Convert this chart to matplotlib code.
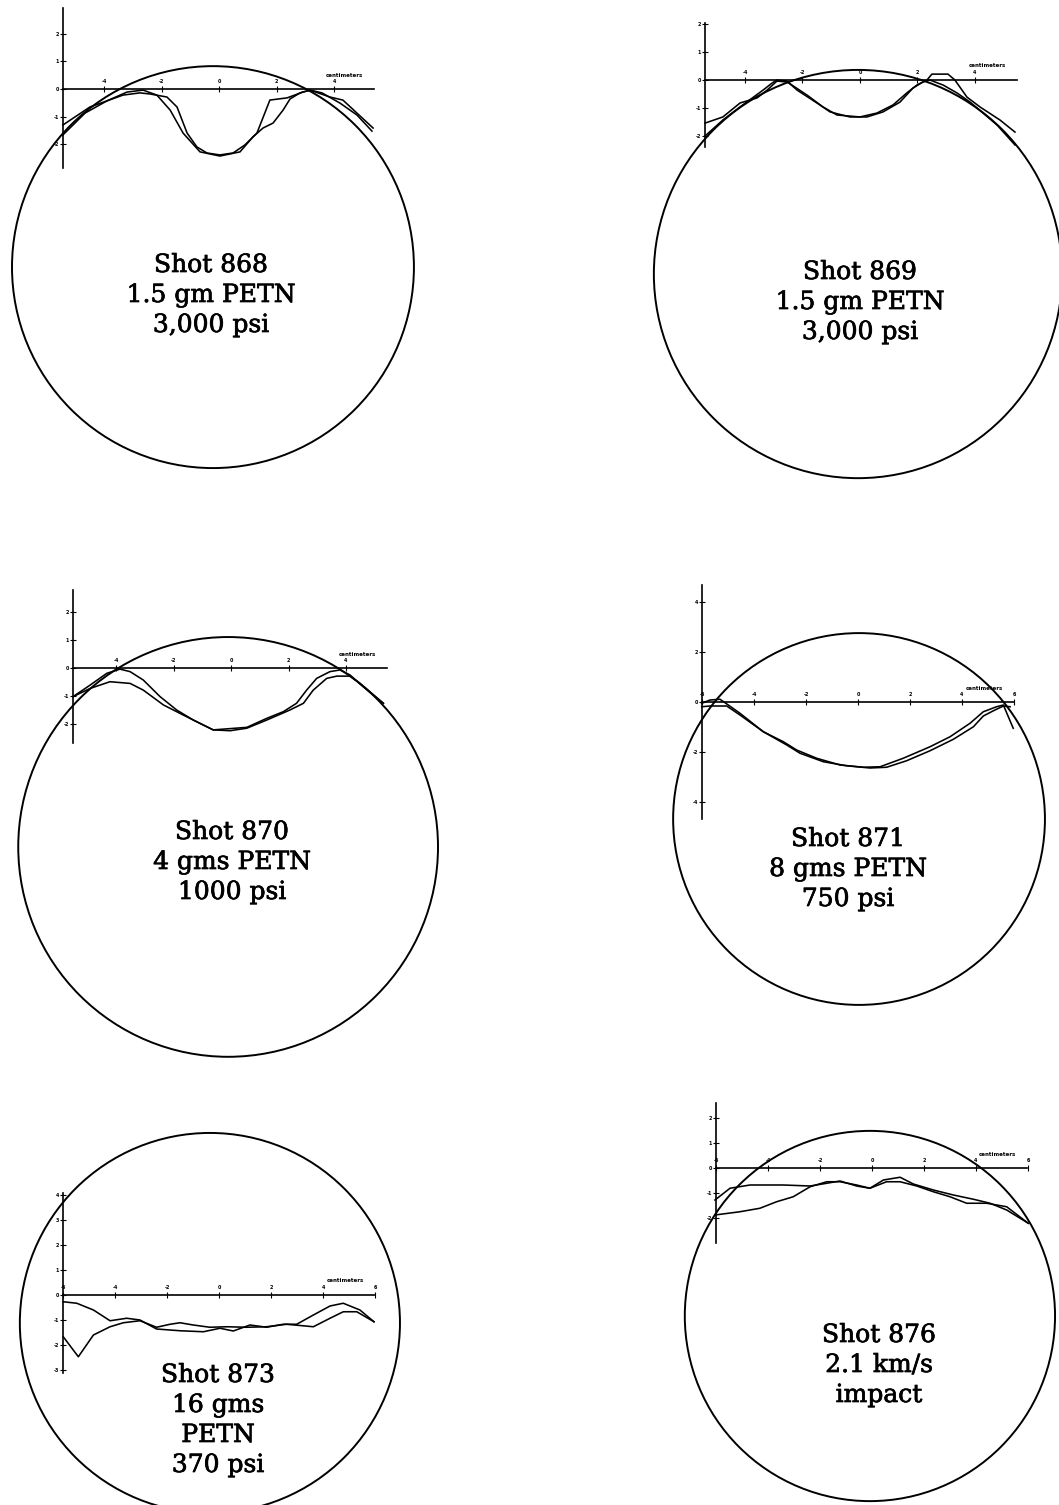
import matplotlib
matplotlib.use("Agg")
import matplotlib.pyplot as plt
import matplotlib.patheffects as pe
from matplotlib.patches import Ellipse

plt.rcParams['axes.unicode_minus'] = False

# ---------------- data (x in cm, y in plot units) ----------------
shots = ["868", "869", "870", "871", "873", "876"]

s868_xa = [-5.43, -4.49, -3.34, -2.75, -2.40, -1.81, -1.46, -1.11, -0.77, -0.42, 0.03,
           0.49, 0.90, 1.32, 1.77, 2.37, 2.92, 3.17, 3.86, 4.31, 5.36]
s868_ya = [-1.30, -0.65, -0.22, -0.14, -0.18, -0.29, -0.65, -1.59, -2.09, -2.31, -2.38,
           -2.31, -2.02, -1.59, -0.40, -0.32, -0.11, -0.04, -0.29, -0.40, -1.41]
s868_xb = [-5.43, -4.66, -3.90, -3.20, -2.64, -2.16, -1.70, -1.25, -0.66, 0.03, 0.73,
           1.18, 1.53, 1.88, 2.23, 2.47, 2.82, 3.17, 3.58, 4.21, 4.80, 5.32]
s868_yb = [-1.66, -0.87, -0.43, -0.11, -0.04, -0.22, -0.76, -1.59, -2.27, -2.42, -2.27,
           -1.73, -1.41, -1.23, -0.76, -0.36, -0.14, -0.04, -0.14, -0.51, -0.94, -1.52]

s869_xa = [-5.39, -4.77, -4.17, -3.58, -3.23, -2.89, -2.54, -2.37, -1.84, -1.29, -0.80, 0.00,
           0.59, 1.15, 1.63, 1.98, 2.33, 2.50, 3.06, 3.30, 3.72, 4.17, 4.87, 5.39]
s869_ya = [-1.54, -1.32, -0.82, -0.64, -0.36, -0.04, -0.07, -0.18, -0.54, -0.96, -1.25, -1.32,
           -1.18, -0.89, -0.46, -0.18, 0.00, 0.21, 0.21, 0.00, -0.61, -0.96, -1.43, -1.86]
s869_xb = [-5.39, -4.77, -4.17, -3.37, -3.06, -2.89, -2.54, -2.19, -1.50, -1.04, -0.35, 0.24,
           0.80, 1.39, 1.84, 2.19, 2.43, 2.89, 3.37, 3.83, 4.28, 4.77, 5.39]
s869_yb = [-2.00, -1.43, -0.96, -0.36, -0.11, 0.00, -0.04, -0.36, -0.82, -1.14, -1.32, -1.32,
           -1.14, -0.79, -0.29, -0.07, 0.00, -0.18, -0.46, -0.79, -1.18, -1.61, -2.32]

s870_xa = [-5.49, -4.90, -4.21, -3.51, -3.05, -2.35, -1.66, -0.62, -0.03, 0.55, 1.24, 2.05,
           2.52, 2.86, 3.33, 3.68, 4.14, 4.49, 5.30]
s870_ya = [-1.02, -0.73, -0.49, -0.55, -0.79, -1.32, -1.68, -2.21, -2.24, -2.15, -1.86, -1.50,
           -1.26, -0.79, -0.37, -0.29, -0.29, -0.55, -1.26]
s870_xb = [-5.49, -4.90, -4.32, -3.86, -3.51, -3.05, -2.47, -1.89, -1.31, -0.62, 0.55, 1.24,
           1.82, 2.28, 2.63, 2.98, 3.44, 3.79, 4.14, 4.60, 5.30]
s870_yb = [-1.02, -0.61, -0.19, -0.04, -0.13, -0.43, -1.02, -1.50, -1.86, -2.21, -2.12, -1.80,
           -1.56, -1.26, -0.79, -0.37, -0.13, -0.07, -0.25, -0.67, -1.26]

s871_xa = [-6.01, -5.69, -5.31, -4.99, -4.54, -3.64, -2.87, -2.36, -1.59, -0.69, 0.21, 0.85,
           1.74, 2.77, 3.54, 4.31, 4.82, 5.33, 5.59, 5.97]
s871_ya = [-0.05, 0.08, 0.11, -0.12, -0.45, -1.19, -1.59, -1.92, -2.25, -2.52, -2.61, -2.59,
           -2.25, -1.79, -1.39, -0.85, -0.39, -0.19, -0.12, -1.05]
s871_xb = [-6.01, -5.69, -5.05, -4.54, -3.64, -2.74, -2.23, -1.33, -0.44, 0.46, 1.10, 1.87,
           2.77, 3.67, 4.44, 4.82, 5.21, 5.59, 5.85]
s871_yb = [-0.19, -0.16, -0.16, -0.52, -1.19, -1.72, -2.05, -2.39, -2.55, -2.64, -2.61, -2.35,
           -1.95, -1.49, -0.99, -0.56, -0.35, -0.16, -0.19]

s873_xa = [-5.99, -5.47, -4.83, -4.19, -3.55, -3.04, -2.40, -1.50, -0.60, 0.04, 0.55, 1.19,
           1.83, 2.47, 2.99, 3.63, 4.27, 4.78, 5.42, 5.96]
s873_ya = [-0.27, -0.33, -0.60, -1.03, -0.93, -1.00, -1.36, -1.43, -1.47, -1.33, -1.44, -1.20,
           -1.29, -1.17, -1.17, -0.80, -0.44, -0.33, -0.60, -1.07]
s873_xb = [-5.99, -5.41, -4.83, -4.19, -3.68, -3.04, -2.40, -1.88, -1.50, -0.99, -0.35, 0.30,
           1.06, 1.83, 2.60, 3.63, 4.27, 4.78, 5.30, 5.96]
s873_yb = [-1.67, -2.47, -1.60, -1.27, -1.11, -1.03, -1.29, -1.17, -1.11, -1.20, -1.29, -1.27,
           -1.29, -1.27, -1.17, -1.27, -0.93, -0.67, -0.67, -1.07]

s876_xa = [-6.04, -5.46, -4.69, -3.41, -2.38, -1.74, -1.23, -0.59, -0.08, 0.44, 1.08, 1.59,
           2.36, 3.13, 3.90, 4.54, 5.18, 6.01]
s876_ya = [-1.28, -0.81, -0.68, -0.68, -0.72, -0.61, -0.52, -0.72, -0.81, -0.48, -0.37, -0.64,
           -0.88, -1.08, -1.25, -1.41, -1.68, -2.21]
s876_xb = [-6.04, -5.08, -4.31, -3.67, -3.03, -2.38, -1.74, -1.23, -0.59, -0.08, 0.56, 1.08,
           1.72, 2.36, 3.00, 3.64, 4.41, 5.18, 6.01]
s876_yb = [-1.88, -1.75, -1.61, -1.35, -1.15, -0.75, -0.55, -0.55, -0.68, -0.81, -0.55, -0.55,
           -0.72, -0.95, -1.15, -1.41, -1.41, -1.55, -2.21]

# plate outline circles (centre x, centre y, radius in x units)
circle_x = [-0.21, -0.07, -0.10, 0.04, -0.35, -0.08]
circle_y = [-6.43, -6.93, -6.39, -4.68, -1.12, -5.92]
circle_r = [6.99, 7.10, 7.30, 7.15, 7.31, 7.12]

xticks_small = [-4, -2, 0, 2, 4]
xticks_wide = [-6, -4, -2, 0, 2, 4, 6]
yticks_868 = [-2, -1, 0, 1, 2]
yticks_871 = [-4, -2, 0, 2, 4]
yticks_873 = [-3, -2, -1, 0, 1, 2, 3, 4]
yticks_876 = [-2, -1, 0, 1, 2]

labels_868 = ["Shot 868", "1.5 gm PETN", "3,000 psi"]
labels_869 = ["Shot 869", "1.5 gm PETN", "3,000 psi"]
labels_870 = ["Shot 870", "4 gms PETN", "1000 psi"]
labels_871 = ["Shot 871", "8 gms PETN", "750 psi"]
labels_873 = ["Shot 873", "16 gms", "PETN", "370 psi"]
labels_876 = ["Shot 876", "2.1 km/s", "impact"]

profiles = [(s868_xa, s868_ya, s868_xb, s868_yb), (s869_xa, s869_ya, s869_xb, s869_yb),
            (s870_xa, s870_ya, s870_xb, s870_yb), (s871_xa, s871_ya, s871_xb, s871_yb),
            (s873_xa, s873_ya, s873_xb, s873_yb), (s876_xa, s876_ya, s876_xb, s876_yb)]
xticks_all = [xticks_small, xticks_small, xticks_small, xticks_wide, xticks_wide, xticks_wide]
yticks_all = [yticks_868, yticks_868, yticks_868, yticks_871, yticks_873, yticks_876]
labels_all = [labels_868, labels_869, labels_870, labels_871, labels_873, labels_876]

# ---------------- layout (pixels of the 1059x1505 page) ----------------
W, H = 1059, 1505
origin_px = [(219, 89), (860, 80), (231, 668), (858, 702), (219, 1295), (872, 1168)]
scale_px = [(28.75, 27.7), (28.75, 28.0), (28.75, 28.0), (26, 25), (26, 25), (26, 25)]
xspan = [(-5.43, 5.39), (-5.39, 5.46), (-5.50, 5.43), (-6.0, 6.0), (-6.0, 6.0), (-6.0, 5.96)]
yspan = [(-2.85, 2.92), (-2.39, 2.04), (-2.68, 2.79), (-4.68, 4.68), (-3.12, 4.08), (-3.0, 2.6)]
text_x = [211, 860, 232, 848, 218, 879]
text_y = [272, 279, 839, 846, 1382, 1342]
text_step = 30

fig = plt.figure(figsize=(W / 100, H / 100), dpi=100)
fig.patch.set_facecolor("white")

for i, shot in enumerate(shots):
    ox, oy = origin_px[i]
    sx, sy = scale_px[i]
    ax = fig.add_axes([0, 0, 1, 1])
    ax.patch.set_alpha(0)
    ax.set_xlim(-ox / sx, (W - ox) / sx)
    ax.set_ylim((oy - H) / sy, oy / sy)

    # axes drawn as spines through the origin
    for side in ["top", "right"]:
        ax.spines[side].set_visible(False)
    ax.spines["left"].set_position(("data", xspan[i][0]))
    ax.spines["left"].set_bounds(*yspan[i])
    ax.spines["bottom"].set_position(("data", 0))
    ax.spines["bottom"].set_bounds(*xspan[i])
    for side in ["left", "bottom"]:
        ax.spines[side].set_linewidth(1.2)
    ax.set_xticks(xticks_all[i])
    ax.set_yticks(yticks_all[i])
    ax.set_xticklabels([str(v) for v in xticks_all[i]], fontweight="bold")
    ax.set_yticklabels([str(v) for v in yticks_all[i]], fontweight="bold")
    ax.tick_params(direction="inout", length=4, width=0.8, labelsize=3.5)
    ax.tick_params(axis="x", pad=-9)
    ax.tick_params(axis="y", pad=1)

    xa, ya, xb, yb = profiles[i]
    ax.plot(xa, ya, color="black", lw=1.15)
    ax.plot(xb, yb, color="black", lw=1.15)

    r = circle_r[i]
    ax.add_patch(Ellipse((circle_x[i], circle_y[i]), 2 * r, 2 * r * sx / sy,
                         fill=False, edgecolor="black", lw=1.4))

    ax.annotate("centimeters", xy=(xspan[i][1], 0), xytext=(-30, 14),
                textcoords="offset pixels", ha="center", va="center",
                fontsize=4, fontweight="bold")

    for k, line in enumerate(labels_all[i]):
        fig.text(text_x[i] / W, 1 - (text_y[i] + k * text_step) / H, line,
                 ha="center", va="baseline", fontsize=18, family="DejaVu Serif",
                 path_effects=[pe.withStroke(linewidth=0.5, foreground="black")])

fig.savefig("out.png", dpi=100)
